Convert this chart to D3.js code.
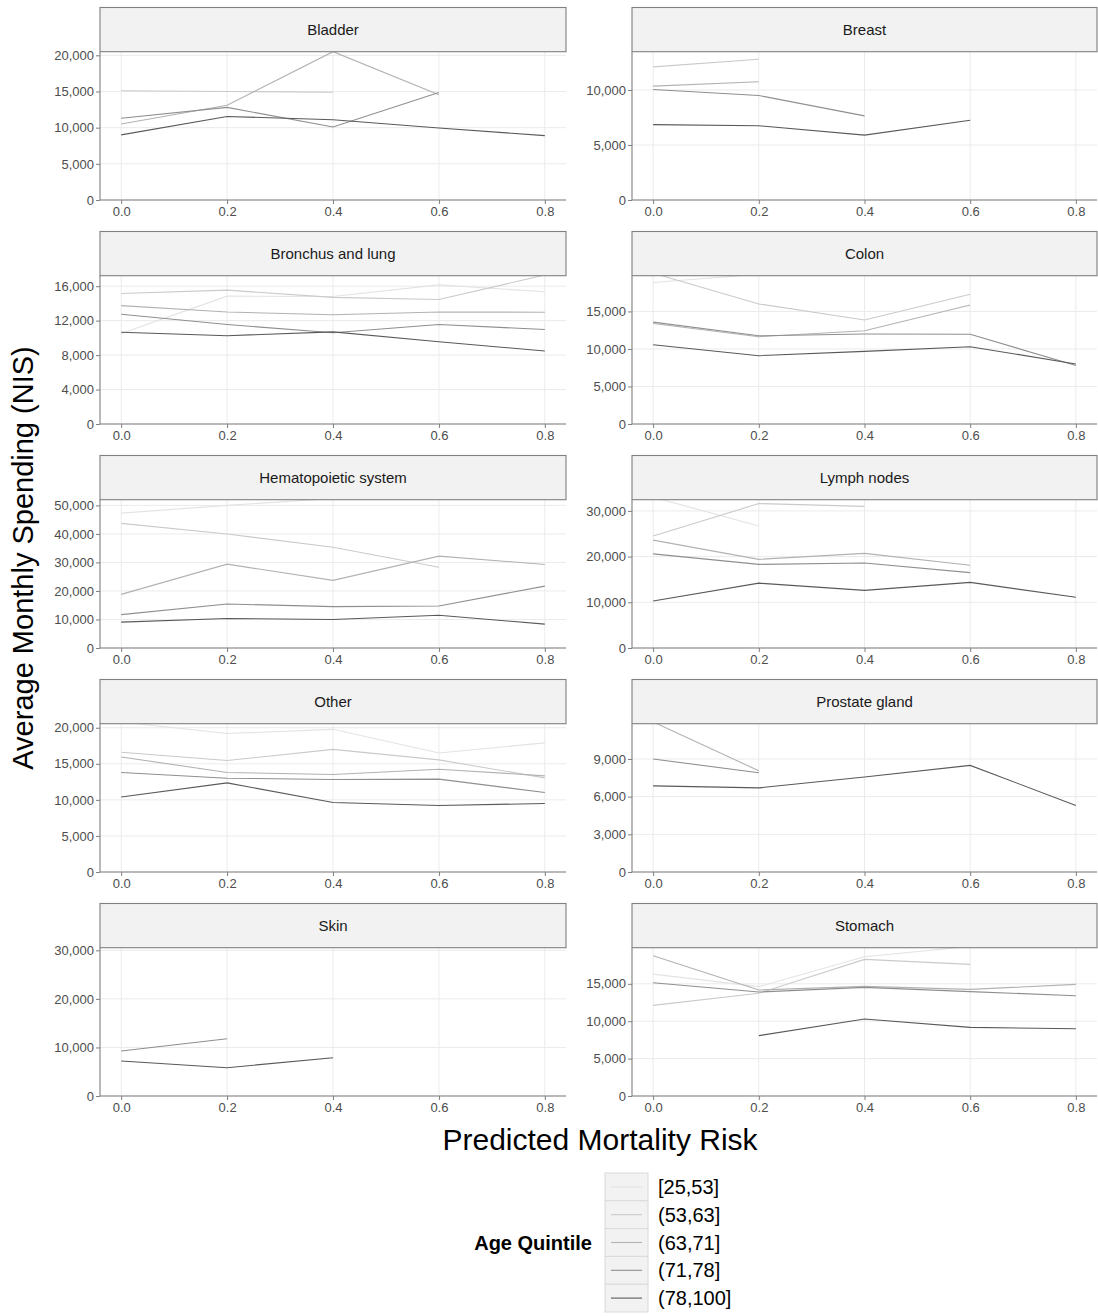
<!DOCTYPE html>
<html>
<head>
<meta charset="utf-8">
<script src="https://cdn.jsdelivr.net/npm/d3@7"></script>
<style>
  body { margin: 0; background: #fff; }
  svg { font-family: "Liberation Sans", Arial, sans-serif; }
</style>
</head>
<body>
<svg id="chart" width="1098" height="1316"></svg>
<script>
// predicted mortality risk bins (x values)
const riskBins = [0, 0.2, 0.4, 0.6, 0.8];
const quintiles = ["[25,53]", "(53,63]", "(63,71]", "(71,78]", "(78,100]"];
const quintileColors = ["#E3E3E3", "#CACACA", "#B2B2B2", "#8F8F8F", "#595959"];

const cancerSites = ["Bladder", "Breast", "Bronchus and lung", "Colon", "Hematopoietic system",
  "Lymph nodes", "Other", "Prostate gland", "Skin", "Stomach"];

// one row per quintile, values in NIS, null = no data
const bladder = [
  [null, null, null, null, null],
  [15100, 15000, 14900, null, null],
  [10500, 13100, 20500, 14550, null],
  [11300, 12800, 10100, 14850, null],
  [9000, 11550, 11100, 9950, 8900]
];
const breast = [
  [null, null, null, null, null],
  [12100, 12800, null, null, null],
  [10350, 10750, null, null, null],
  [10050, 9500, 7650, null, null],
  [6850, 6750, 5900, 7250, null]
];
const lung = [
  [10500, 14850, 14800, 16150, 15350],
  [15150, 15550, 14700, 14450, 17300],
  [13750, 13000, 12680, 13000, 12980],
  [12750, 11550, 10600, 11550, 10980],
  [10650, 10250, 10700, 9550, 8480]
];
const colon = [
  [18850, 19950, null, null, null],
  [20100, 16000, 13850, 17300, null],
  [13400, 11630, 12420, 15850, null],
  [13580, 11750, 12000, 11950, 7800],
  [10550, 9100, 9680, 10300, 8000]
];
const hematopoietic = [
  [47300, 50000, 52400, null, null],
  [43700, 40000, 35300, 28300, null],
  [18800, 29400, 23700, 32200, 29300],
  [11700, 15450, 14500, 14750, 21700],
  [9070, 10350, 9980, 11500, 8370]
];
const lymph = [
  [33000, 26700, null, null, null],
  [24500, 31600, 31000, null, null],
  [23600, 19400, 20700, 18100, null],
  [20600, 18300, 18600, 16500, null],
  [10300, 14200, 12600, 14350, 11100]
];
const other = [
  [20800, 19200, 19780, 16500, 17900],
  [16600, 15450, 17000, 15550, 13050],
  [15950, 13800, 13520, 14250, 13330],
  [13800, 13000, 12830, 12870, 11020],
  [10400, 12350, 9630, 9220, 9500]
];
const prostate = [
  [null, null, null, null, null],
  [null, null, null, null, null],
  [11950, 8060, null, null, null],
  [9000, 7900, null, null, null],
  [6860, 6700, 7560, 8490, 5300]
];
const skin = [
  [null, null, null, null, null],
  [null, null, null, null, null],
  [null, null, null, null, null],
  [9260, 11800, null, null, null],
  [7200, 5830, 7890, null, null]
];
const stomach = [
  [16300, 14620, 18620, 20000, null],
  [12120, 13730, 18270, 17600, null],
  [18760, 14170, 14660, 14260, 14930],
  [15150, 13900, 14530, 13950, 13410],
  [null, 8070, 10290, 9180, 9000]
];
const siteValues = [bladder, breast, lung, colon, hematopoietic, lymph, other, prostate, skin, stomach];

// y axis: tick step and visible top of each panel
const yTickStep = [5000, 5000, 4000, 5000, 10000, 10000, 5000, 3000, 10000, 5000];
const yVisibleTop = [20500, 13480, 17220, 19760, 52000, 32450, 20560, 11810, 30540, 19830];

const svg = d3.select("#chart");
const colX = [[100, 566], [632, 1097]];
const rowTop = 7.5, rowPitch = 224, stripH = 44.2, panelH = 192.5;
const fmt = d3.format(",");

const color = d3.scaleOrdinal().domain(quintiles).range(quintileColors);

cancerSites.forEach((site, i) => {
  let col = i % 2, row = Math.floor(i / 2);
  let x0 = colX[col][0], x1 = colX[col][1];
  let top = rowTop + row * rowPitch;
  let stripBottom = top + stripH;
  let bottom = top + panelH;

  let x = d3.scaleLinear().domain([-0.04, 0.84]).range([x0, x1]);
  let y = d3.scaleLinear().domain([0, yVisibleTop[i]]).range([bottom, stripBottom]);
  let ticks = d3.range(0, yVisibleTop[i] + 1, yTickStep[i]);

  let g = svg.append("g");

  // grid
  g.selectAll(".hgrid").data(ticks).enter().append("line")
    .attr("x1", x0).attr("x2", x1)
    .attr("y1", d => y(d)).attr("y2", d => y(d))
    .attr("stroke", "#EBEBEB").attr("stroke-width", 1);
  g.selectAll(".vgrid").data(riskBins).enter().append("line")
    .attr("x1", d => x(d)).attr("x2", d => x(d))
    .attr("y1", stripBottom).attr("y2", bottom)
    .attr("stroke", "#EBEBEB").attr("stroke-width", 1);

  // lines, clipped under strip
  let clipId = "clip" + i;
  svg.append("clipPath").attr("id", clipId).append("rect")
    .attr("x", x0).attr("y", stripBottom).attr("width", x1 - x0).attr("height", bottom - stripBottom);

  let line = d3.line()
    .defined(d => d.v != null)
    .x(d => x(d.x))
    .y(d => y(d.v));

  let series = siteValues[i].map((vals, q) => ({
    q: quintiles[q],
    pts: vals.map((v, k) => ({x: riskBins[k], v: v}))
  }));

  g.append("g").attr("clip-path", "url(#" + clipId + ")")
    .selectAll("path").data(series).enter().append("path")
    .attr("d", d => line(d.pts))
    .attr("fill", "none")
    .attr("stroke", d => color(d.q))
    .attr("stroke-width", 1.1);

  // axes
  let yAxis = d3.axisLeft(y).tickValues(ticks).tickFormat(fmt).tickSize(4).tickPadding(2);
  let ya = g.append("g").attr("transform", "translate(" + x0 + ",0)").call(yAxis);
  let xAxis = d3.axisBottom(x).tickValues(riskBins).tickFormat(d3.format(".1f")).tickSize(4).tickPadding(3);
  let xa = g.append("g").attr("transform", "translate(0," + bottom + ")").call(xAxis);
  [ya, xa].forEach(a => {
    a.select(".domain").remove();
    a.selectAll(".tick line").attr("stroke", "#7F7F7F");
    a.selectAll(".tick text").attr("fill", "#4D4D4D").style("font-size", "13px");
  });
  g.append("line").attr("x1", x0).attr("x2", x0).attr("y1", stripBottom).attr("y2", bottom)
    .attr("stroke", "#7F7F7F").attr("stroke-width", 1.1);
  g.append("line").attr("x1", x0).attr("x2", x1).attr("y1", bottom).attr("y2", bottom)
    .attr("stroke", "#7F7F7F").attr("stroke-width", 1.1);

  // strip
  g.append("rect").attr("x", x0).attr("y", top).attr("width", x1 - x0).attr("height", stripH)
    .attr("fill", "#F2F2F2").attr("stroke", "#7F7F7F").attr("stroke-width", 1.1);
  g.append("text").attr("x", (x0 + x1) / 2).attr("y", top + stripH / 2 + 5)
    .attr("text-anchor", "middle").style("font-size", "15px").attr("fill", "#1A1A1A")
    .text(site);
});

// axis titles
svg.append("text").attr("x", 600).attr("y", 1150).attr("text-anchor", "middle")
  .style("font-size", "30px").attr("fill", "#000").text("Predicted Mortality Risk");
svg.append("text").attr("transform", "translate(33,558) rotate(-90)").attr("text-anchor", "middle")
  .style("font-size", "29px").attr("fill", "#000").text("Average Monthly Spending (NIS)");

// legend
let legend = svg.append("g");
let keyX = 605, keyY = 1173, keyW = 43, keyH = 27.8;
legend.append("text").attr("x", 592).attr("y", keyY + keyH * 2.5 + 7).attr("text-anchor", "end")
  .style("font-size", "20px").style("font-weight", "bold").text("Age Quintile");
quintiles.forEach((q, k) => {
  let ky = keyY + k * keyH;
  legend.append("rect").attr("x", keyX).attr("y", ky).attr("width", keyW).attr("height", keyH)
    .attr("fill", "#F2F2F2").attr("stroke", "#DADADA").attr("stroke-width", 1);
  legend.append("line").attr("x1", keyX + 6).attr("x2", keyX + keyW - 6)
    .attr("y1", ky + keyH / 2).attr("y2", ky + keyH / 2)
    .attr("stroke", color(q)).attr("stroke-width", 1.1);
  legend.append("text").attr("x", keyX + keyW + 10).attr("y", ky + keyH / 2 + 7)
    .style("font-size", "20px").attr("fill", "#000").text(q);
});
</script>
</body>
</html>
